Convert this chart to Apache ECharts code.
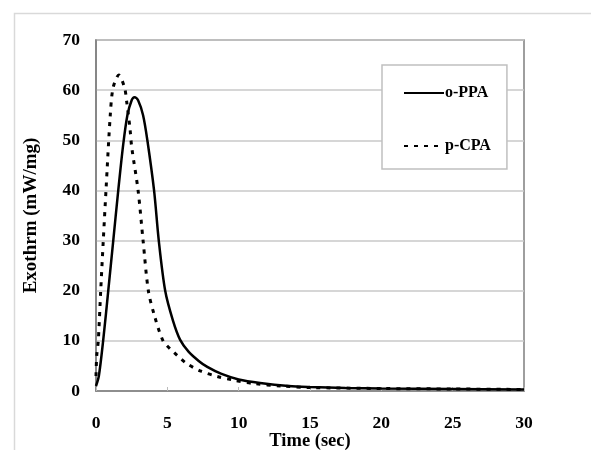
<!DOCTYPE html>
<html><head><meta charset="utf-8">
<script src="https://cdn.jsdelivr.net/npm/echarts@6/dist/echarts.min.js"></script>
<style>html,body{margin:0;padding:0;background:#fff}#c{width:591px;height:450px}</style>
</head><body><div id="c"></div>
<script>
const seriesNames = ['o-PPA', 'p-CPA'];
const timeA = [0, 0.2, 0.5, 0.86, 1.21, 1.56, 1.9, 2.2, 2.5, 2.7, 2.95, 3.3, 3.6, 4.07, 4.4, 4.85, 5.4, 5.9, 6.5, 7.2, 7.8, 8.8, 10, 11.5, 13.5, 15, 17.5, 20, 25, 30];
const valsA = [1, 3, 10, 20, 30, 40, 49, 55, 58, 58.6, 58, 55, 50, 40, 30, 20, 14, 10.2, 7.8, 6, 4.8, 3.4, 2.3, 1.6, 1.0, 0.8, 0.6, 0.5, 0.4, 0.3];
const timeB = [0, 0.05, 0.16, 0.33, 0.51, 0.7, 1.0, 1.2, 1.6, 2.0, 2.15, 2.38, 2.5, 2.95, 3.3, 3.67, 4.1, 4.7, 5.2, 5.65, 6.3, 7.3, 8.5, 9.6, 11, 13, 15, 20, 25, 30];
const valsB = [3, 7, 10, 20, 30, 40, 55, 60.5, 63, 60.5, 57.7, 52.4, 48.7, 40, 30, 20, 15, 10, 8.4, 7.2, 5.6, 4.0, 2.9, 2.2, 1.5, 1.0, 0.7, 0.5, 0.4, 0.3];
const xTicks = [0, 5, 10, 15, 20, 25, 30];
const yTicks = [0, 10, 20, 30, 40, 50, 60, 70];

const font = '"Liberation Serif", "DejaVu Serif", serif';
const chart = echarts.init(document.getElementById('c'), null, {renderer: 'canvas'});
chart.setOption({
  animation: false,
  backgroundColor: '#fff',
  graphic: [{
    type: 'rect', left: 12, top: 11, z: -10,
    shape: {width: 600, height: 460},
    style: {fill: 'none', stroke: '#d9d9d9', lineWidth: 1.5}
  }],
  grid: {left: 96, right: 67, top: 40, bottom: 59, containLabel: false, outerBoundsMode: 'none',
         show: true, borderColor: '#7f7f7f', borderWidth: 1.5, backgroundColor: 'transparent'},
  legend: {
    orient: 'vertical', left: 382, top: 65,
    padding: [20, 16, 15, 21], itemGap: 37, itemWidth: 40, itemHeight: 14,
    backgroundColor: '#fff', borderColor: '#c0c0c0', borderWidth: 1.5,
    itemStyle: {opacity: 0},
    textStyle: {fontFamily: font, fontWeight: 'bold', fontSize: 16, color: '#000', padding: [0,0,0,-4]},
    data: seriesNames
  },
  xAxis: {
    type: 'value', min: xTicks[0], max: xTicks[xTicks.length-1], interval: 5,
    name: 'Time (sec)', nameLocation: 'middle', nameGap: 41, nameMoveOverlap: false,
    nameTextStyle: {fontFamily: font, fontWeight: 'bold', fontSize: 18.5, color: '#000'},
    axisLine: {show: true, lineStyle: {color: '#7f7f7f', width: 1.5}},
    axisTick: {show: true, inside: true, length: 4, lineStyle: {color: '#bbb'}},
    axisLabel: {fontFamily: font, fontWeight: 'bold', fontSize: 17.5, color: '#000', margin: 23},
    splitLine: {show: false}
  },
  yAxis: {
    type: 'value', min: yTicks[0], max: yTicks[yTicks.length-1], interval: 10,
    name: 'Exothrm (mW/mg)', nameLocation: 'middle', nameGap: 55, nameMoveOverlap: false,
    nameTextStyle: {fontFamily: font, fontWeight: 'bold', fontSize: 19, color: '#000'},
    axisLine: {show: true, lineStyle: {color: '#7f7f7f', width: 1.5}},
    axisTick: {show: false},
    axisLabel: {fontFamily: font, fontWeight: 'bold', fontSize: 17.5, color: '#000', margin: 16},
    splitLine: {show: true, lineStyle: {color: '#c8c8c8', width: 1.5}}
  },
  series: [
    {name: seriesNames[0], type: 'line', symbol: 'none', smooth: 0.3,
     data: timeA.map((t, i) => [t, valsA[i]]),
     lineStyle: {color: '#000', width: 2.5, type: 'solid'}, itemStyle: {color: '#000'}},
    {name: seriesNames[1], type: 'line', symbol: 'none', smooth: 0.3,
     data: timeB.map((t, i) => [t, valsB[i]]),
     lineStyle: {color: '#000', width: 3, type: [4, 6]}, itemStyle: {color: '#000'}}
  ]
});
</script></body></html>
